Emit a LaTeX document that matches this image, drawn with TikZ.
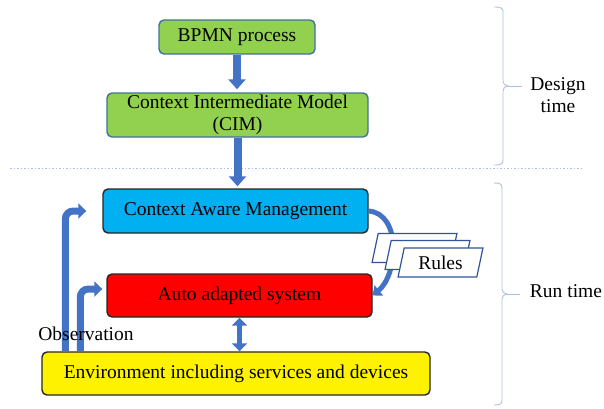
\documentclass[tikz,border=0pt]{standalone}
\usepackage{fontspec}
\setmainfont{Liberation Serif}
\usetikzlibrary{arrows.meta,shapes.geometric}
\definecolor{bpmngreen}{HTML}{92D050}
\definecolor{greenedge}{HTML}{41719C}
\definecolor{camblue}{HTML}{00B0F0}
\definecolor{flowblue}{HTML}{4472C4}
\definecolor{rulesedge}{HTML}{2F5597}
\definecolor{bracegray}{HTML}{AFC0DE}

\begin{document}
\begin{tikzpicture}[x=1pt,y=-1pt,font=\fontsize{19.5}{22.5}\selectfont,
  box/.style={rectangle,rounded corners=5pt,draw=black!85,line width=1.4pt,inner sep=0pt,align=center},
  designbox/.style={box,fill=bpmngreen,draw=greenedge},
  flowarrow/.style={flowblue,line width=8pt,-{Triangle[length=10pt,width=17pt]}},
  obsarrow/.style={flowblue,line width=7pt,rounded corners=8pt,-{Triangle[length=8pt,width=15pt]}},
  rulepage/.style={trapezium,trapezium stretches=true,trapezium left angle=76,trapezium right angle=104,
    draw=rulesedge,line width=1.2pt,fill=white,minimum width=85pt,minimum height=29pt,inner sep=1pt},
  timebrace/.style={draw=bracegray,line width=0.9pt}]
\useasboundingbox (0,0) rectangle (604,408);

% design time
\node [designbox,minimum width=156pt,minimum height=34pt] (bpmn) at (237,37) {BPMN process};
\node [designbox,minimum width=261pt,minimum height=44pt] (cim) at (237.5,115) {Context Intermediate Model\\(CIM)};
\draw [flowarrow,shorten >=3pt] (bpmn.south) -- (bpmn.south |- cim.north);

\draw [bracegray,line width=1pt,dash pattern=on 1.5pt off 2pt] (10,168) -- (583,168);

% run time
\node [box,fill=camblue,minimum width=265pt,minimum height=44pt] (cam) at (235.5,211) {Context Aware Management};
\node [box,fill=red,minimum width=265pt,minimum height=43pt] (auto) at (239.5,295.5) {Auto adapted system};
\node [box,fill=yellow,minimum width=388pt,minimum height=43pt] (env) at (236,373.5) {Environment including services and devices};
\draw [flowarrow,shorten >=2pt] (cim.south) -- (cim.south |- cam.north);
\draw [flowblue,line width=5.5pt,{Triangle[length=8pt,width=15pt]}-{Triangle[length=8pt,width=15pt]}] (auto.south) -- (auto.south |- env.north);

% observation
\coordinate (obsa) at ([xshift=-16pt]cam.west);
\coordinate (obsb) at ([xshift=-4pt,yshift=6.5pt]auto.west);
\draw [obsarrow] ([xshift=24pt]env.north west) |- (obsa);
\draw [obsarrow] ([xshift=39pt]env.north west) |- (obsb);
\node (obs) at (86,334) {Observation};

% rules
\draw [flowblue,line width=5pt,-{Triangle[length=8pt,width=13pt]}] (cam.east) to[out=-5,in=40] (auto.east);
\node [rulepage] (rules1) at (414.5,248) {\phantom{Rules}};
\node [rulepage] (rules2) at (427.5,255) {\phantom{Rules}};
\node [rulepage] (rules3) at (440.5,262.5) {Rules};

% braces
\draw [timebrace] (494,7) .. controls (501,7) and (503,8) .. (503,12) -- (503,81)
  .. controls (503,84) and (505,86) .. (508,86) .. controls (505,86) and (503,88) .. (503,91)
  -- (503,160) .. controls (503,164) and (501,165) .. (494,165);
\draw [timebrace] (508,86) -- (522,86);
\node [align=center] (design) at (558,95) {Design\\time};
\draw [timebrace] (494,183) .. controls (500,183) and (502,184) .. (502,188) -- (502,289)
  .. controls (502,292) and (504,294) .. (507,294) .. controls (504,294) and (502,296) .. (502,299)
  -- (502,400) .. controls (502,404) and (500,405) .. (494,405);
\draw [timebrace] (507,294) -- (520,294);
\node (run) at (566,291) {Run time};
\end{tikzpicture}
\end{document}
